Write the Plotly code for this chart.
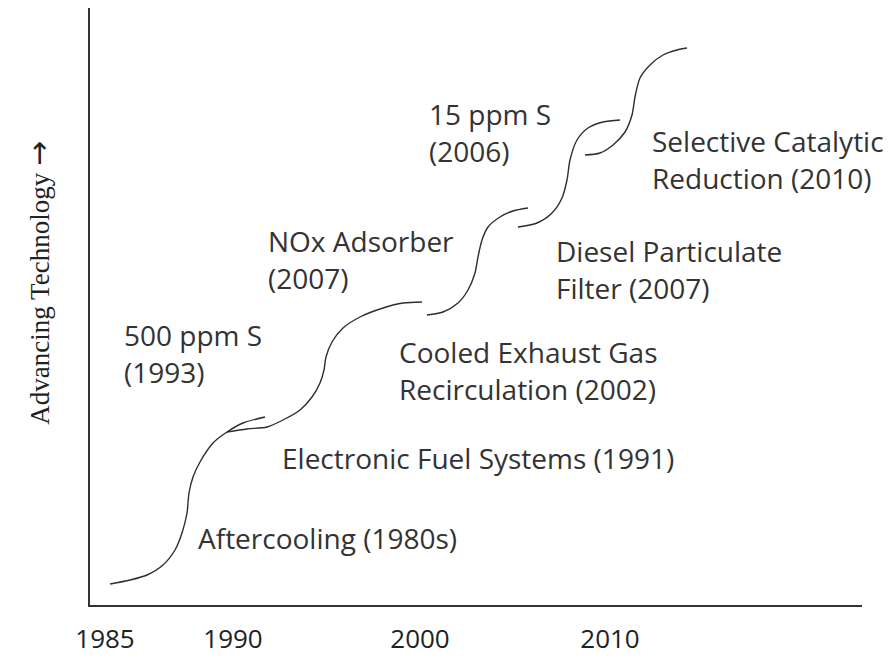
import plotly.graph_objects as go

# ---- data (diagram units: x to the right of the vertical axis, y above the baseline) ----
aftercooling_x = [20, 40, 57, 73, 85, 92, 97, 99, 103, 110, 123, 137, 153, 175]
aftercooling_y = [21, 25, 30, 40, 55, 72, 92, 112, 128, 143, 162, 173, 182, 188]

efs_x = [137, 157, 177, 193, 210, 222, 230, 234, 236, 242, 253, 270, 293, 313, 332]
efs_y = [173, 176, 178, 185, 195, 208, 222, 235, 248, 263, 277, 288, 297, 302, 303]

egr_x = [337, 353, 368, 378, 385, 388, 392, 398, 410, 423, 438]
egr_y = [290, 293, 302, 315, 332, 348, 365, 378, 388, 394, 397]

dpf_x = [428, 447, 462, 472, 477, 480, 487, 498, 513, 530]
dpf_y = [378, 382, 392, 407, 425, 445, 465, 477, 483, 485]

scr_x = [495, 510, 523, 535, 542, 545, 550, 560, 573, 587, 597]
scr_y = [450, 452, 460, 473, 490, 508, 527, 540, 550, 555, 557]

tick_positions = [15, 143, 330, 520]
tick_labels = ["1985", "1990", "2000", "2010"]

label_texts = [
    ["15 ppm S", "(2006)"],
    ["Selective Catalytic", "Reduction (2010)"],
    ["NOx Adsorber", "(2007)"],
    ["Diesel Particulate", "Filter (2007)"],
    ["500 ppm S", "(1993)"],
    ["Cooled Exhaust Gas", "Recirculation (2002)"],
    ["Electronic Fuel Systems (1991)"],
    ["Aftercooling (1980s)"],
]
# left edge x and first-line y for each label (diagram units)
label_anchor_x = [337, 560, 176, 464, 32, 307, 190, 106]
label_anchor_y = [491, 464, 364, 354, 270, 253, 147, 67]
line_gap = 37

y_title = ("Advancing Technology "
           "<span style='font-family:DejaVu Sans;font-size:30px'>\u2192</span>")

# ---- figure ----
fig = go.Figure()
curve_color = "#2e2e2e"
for xs, ys in [(aftercooling_x, aftercooling_y), (efs_x, efs_y), (egr_x, egr_y),
               (dpf_x, dpf_y), (scr_x, scr_y)]:
    fig.add_trace(go.Scatter(x=xs, y=ys, mode="lines",
                             line=dict(color=curve_color, width=1.4, shape="spline", smoothing=0.8),
                             showlegend=False, hoverinfo="skip"))

text_font = dict(family="Open Sans, Lato, sans-serif", size=28, color="#333333")
annotations = []
for lines, lx, ly in zip(label_texts, label_anchor_x, label_anchor_y):
    for i, line in enumerate(lines):
        annotations.append(dict(x=lx, y=ly - i * line_gap, xref="x", yref="y",
                                text=line, showarrow=False, xanchor="left", yanchor="middle",
                                font=text_font))

annotations.append(dict(x=-0.066, y=0.54, xref="paper", yref="paper", text=y_title,
                        showarrow=False, textangle=-90, xanchor="center", yanchor="middle",
                        font=dict(family="Liberation Serif, Times New Roman, serif", size=27,
                                  color="#222222")))

fig.update_layout(
    width=885, height=649,
    margin=dict(l=82, r=31, t=0, b=52, pad=0),
    paper_bgcolor="white", plot_bgcolor="white",
    annotations=annotations,
    xaxis=dict(range=[0, 772], showgrid=False, zeroline=False, showline=True,
               linecolor="#333333", linewidth=1.6, ticks="",
               tickvals=tick_positions, ticktext=tick_labels,
               tickfont=dict(family="Open Sans, sans-serif", size=26, color="#222222"),
               ticklabelstandoff=10, fixedrange=True),
    yaxis=dict(range=[0, 597], showgrid=False, zeroline=False, showline=True,
               linecolor="#333333", linewidth=1.6, ticks="", showticklabels=False,
               fixedrange=True),
)

fig.write_html("out.html")
